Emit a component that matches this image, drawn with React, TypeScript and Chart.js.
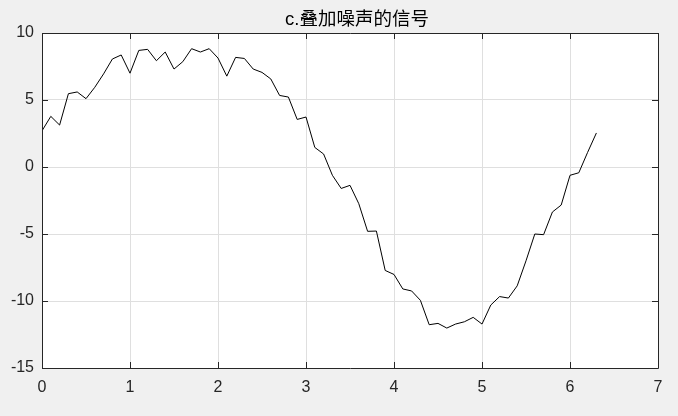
import React, { useEffect, useRef } from "react";
import { Chart, registerables } from "chart.js";

Chart.register(...registerables);

const titleText = "c.叠加噪声的信号";
const xValues: number[] = [
  0.0, 0.1, 0.2, 0.3, 0.4, 0.5, 0.6, 0.7, 0.8, 0.9,
  1.0, 1.1, 1.2, 1.3, 1.4, 1.5, 1.6, 1.7, 1.8, 1.9,
  2.0, 2.1, 2.2, 2.3, 2.4, 2.5, 2.6, 2.7, 2.8, 2.9,
  3.0, 3.1, 3.2, 3.3, 3.4, 3.5, 3.6, 3.7, 3.8, 3.9,
  4.0, 4.1, 4.2, 4.3, 4.4, 4.5, 4.6, 4.7, 4.8, 4.9,
  5.0, 5.1, 5.2, 5.3, 5.4, 5.5, 5.6, 5.7, 5.8, 5.9,
  6.0, 6.1, 6.2, 6.3,
];
const yValues: number[] = [
  2.7, 3.78, 3.13, 5.47, 5.6, 5.1, 5.95, 6.95, 8.06, 8.36,
  7.0, 8.7, 8.78, 7.93, 8.58, 7.31, 7.86, 8.83, 8.58, 8.83,
  8.13, 6.78, 8.18, 8.1, 7.31, 7.06, 6.57, 5.34, 5.22, 3.55,
  3.73, 1.46, 0.97, -0.62, -1.6, -1.37, -2.74, -4.8, -4.78, -7.72,
  -8.02, -9.1, -9.25, -9.95, -11.77, -11.67, -12.02, -11.72, -11.55, -11.22,
  -11.72, -10.3, -9.67, -9.78, -8.87, -7.0, -5.0, -5.05, -3.36, -2.84,
  -0.62, -0.43, 1.09, 2.54,
];
const xTicks: number[] = [0, 1, 2, 3, 4, 5, 6, 7];
const yTicks: number[] = [-15, -10, -5, 0, 5, 10];

const FONT = '"Liberation Sans", Arial, sans-serif';
const TITLE_FONT = '"Liberation Sans", "Noto Sans CJK SC", Arial, sans-serif';
const AXIS = "#262626";

const framePlugin = {
  id: "matlabFrame",
  beforeDraw(chart: any) {
    const { ctx, chartArea: a, width, height } = chart;
    ctx.save();
    ctx.fillStyle = "#f0f0f0";
    ctx.fillRect(0, 0, width, height);
    ctx.fillStyle = "#ffffff";
    ctx.fillRect(a.left, a.top, a.right - a.left, a.bottom - a.top);
    ctx.restore();
  },
  afterDraw(chart: any) {
    const { ctx, chartArea: a } = chart;
    const xs = chart.scales.x;
    const ys = chart.scales.y;
    ctx.save();
    ctx.strokeStyle = AXIS;
    ctx.lineWidth = 1;
    ctx.beginPath();
    ctx.rect(Math.round(a.left) + 0.5, Math.round(a.top) + 0.5, Math.round(a.right - a.left), Math.round(a.bottom - a.top));
    ctx.stroke();
    const tl = 6;
    ctx.beginPath();
    xTicks.forEach((t) => {
      const px = Math.round(xs.getPixelForValue(t)) + 0.5;
      ctx.moveTo(px, a.bottom);
      ctx.lineTo(px, a.bottom - tl);
      ctx.moveTo(px, a.top);
      ctx.lineTo(px, a.top + tl);
    });
    yTicks.forEach((t) => {
      const py = Math.round(ys.getPixelForValue(t)) + 0.5;
      ctx.moveTo(a.left, py);
      ctx.lineTo(a.left + tl, py);
      ctx.moveTo(a.right, py);
      ctx.lineTo(a.right - tl, py);
    });
    ctx.stroke();
    // title
    ctx.fillStyle = "#000000";
    ctx.font = `18.5px ${TITLE_FONT}`;
    ctx.textAlign = "center";
    ctx.textBaseline = "middle";
    ctx.fillText(titleText, (a.left + a.right) / 2 + 7, 20);
    ctx.restore();
  },
};

export default function App() {
  const ref = useRef<HTMLCanvasElement | null>(null);
  useEffect(() => {
    if (!ref.current) return;
    const chart = new Chart(ref.current, {
      type: "line",
      data: {
        datasets: [
          {
            data: xValues.map((x, i) => ({ x, y: yValues[i] })),
            borderColor: "#000000",
            borderWidth: 1,
            pointRadius: 0,
            tension: 0,
            fill: false,
          },
        ],
      },
      options: {
        animation: false,
        responsive: false,
        devicePixelRatio: 1,
        layout: { padding: { left: 0, right: 20, top: 33, bottom: 0 } },
        plugins: { legend: { display: false }, tooltip: { enabled: false }, title: { display: false } },
        scales: {
          x: {
            type: "linear",
            min: 0,
            max: 7,
            afterBuildTicks: (s: any) => {
              s.ticks = xTicks.map((v) => ({ value: v }));
            },
            afterFit: (s: any) => {
              s.height = 48;
            },
            grid: { color: "#dfdfdf", drawTicks: false },
            border: { display: false },
            ticks: {
              color: AXIS,
              font: { family: FONT, size: 16 },
              padding: 10,
              maxRotation: 0,
            },
          },
          y: {
            type: "linear",
            min: -15,
            max: 10,
            afterBuildTicks: (s: any) => {
              s.ticks = yTicks.map((v) => ({ value: v }));
            },
            afterFit: (s: any) => {
              s.width = 42;
            },
            grid: { color: "#dfdfdf", drawTicks: false },
            border: { display: false },
            ticks: {
              color: AXIS,
              font: { family: FONT, size: 16 },
              padding: 8,
            },
          },
        },
      },
      plugins: [framePlugin],
    });
    return () => chart.destroy();
  }, []);
  return (
    <div style={{ position: "absolute", left: 0, top: 0, width: 678, height: 416 }}>
      <canvas ref={ref} width={678} height={416} />
    </div>
  );
}
